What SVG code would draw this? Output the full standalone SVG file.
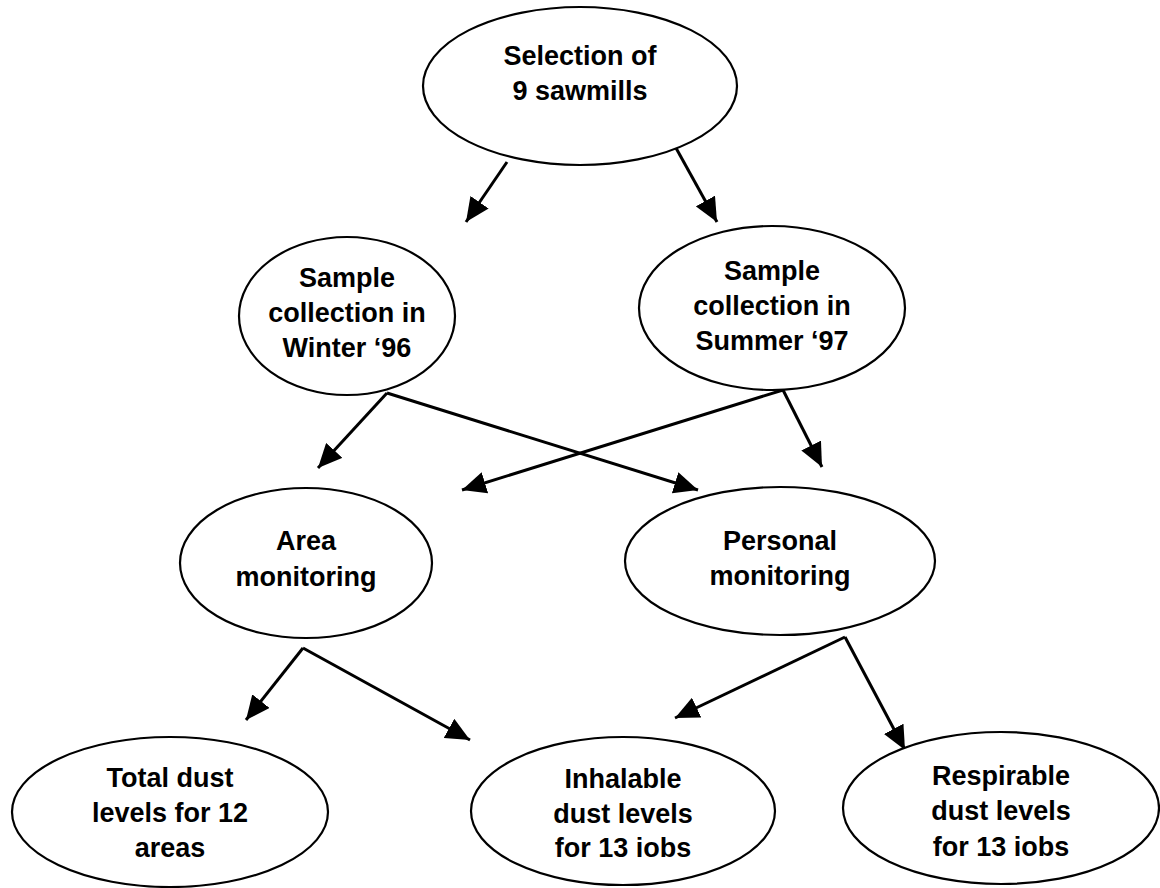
<svg xmlns="http://www.w3.org/2000/svg" width="1160" height="888" viewBox="0 0 1160 888">
<style>
.n{fill:#fff;stroke:#000;stroke-width:2.2}
.t{font-family:"Liberation Sans",Arial,sans-serif;font-weight:bold;font-size:27px;text-anchor:middle;fill:#000}
.c{stroke:#000;stroke-width:3;fill:none;marker-end:url(#ah)}
</style>
<defs>
<marker id="ah" markerUnits="userSpaceOnUse" markerWidth="26" markerHeight="22" refX="24" refY="11" orient="auto">
<path d="M0,0 L24,11 L0,22 Z" fill="#000"/>
</marker>
</defs>
<rect width="1160" height="888" fill="#fff"/>
<g id="connectors">
<line class="c" x1="507" y1="162" x2="466" y2="222"/>
<line class="c" x1="676" y1="148" x2="717" y2="222"/>
<line class="c" x1="387" y1="393" x2="318" y2="468"/>
<line class="c" x1="387" y1="393" x2="698" y2="490"/>
<line class="c" x1="783" y1="390" x2="462" y2="490"/>
<line class="c" x1="783" y1="390" x2="822" y2="467"/>
<line class="c" x1="303" y1="648" x2="246" y2="720"/>
<line class="c" x1="303" y1="648" x2="470" y2="740"/>
<line class="c" x1="845" y1="637" x2="675" y2="718"/>
<line class="c" x1="845" y1="637" x2="905" y2="750"/>
</g>
<g id="selection">
<ellipse class="n" cx="580" cy="86" rx="157" ry="79"/>
<text class="t" x="580" y="65">Selection of</text>
<text class="t" x="580" y="100">9 sawmills</text>
</g>
<g id="winter">
<ellipse class="n" cx="347" cy="316" rx="108" ry="79"/>
<text class="t" x="347" y="287">Sample</text>
<text class="t" x="347" y="322">collection in</text>
<text class="t" x="347" y="357">Winter ‘96</text>
</g>
<g id="summer">
<ellipse class="n" cx="772" cy="308" rx="133" ry="82"/>
<text class="t" x="772" y="280">Sample</text>
<text class="t" x="772" y="315">collection in</text>
<text class="t" x="772" y="350">Summer ‘97</text>
</g>
<g id="area">
<ellipse class="n" cx="306" cy="563" rx="126" ry="75"/>
<text class="t" x="306" y="550">Area</text>
<text class="t" x="306" y="586">monitoring</text>
</g>
<g id="personal">
<ellipse class="n" cx="780" cy="561" rx="155" ry="74"/>
<text class="t" x="780" y="550">Personal</text>
<text class="t" x="780" y="585">monitoring</text>
</g>
<g id="total">
<ellipse class="n" cx="170" cy="812" rx="158" ry="75"/>
<text class="t" x="170" y="787">Total dust</text>
<text class="t" x="170" y="822">levels for 12</text>
<text class="t" x="170" y="857">areas</text>
</g>
<g id="inhalable">
<ellipse class="n" cx="623" cy="811" rx="152" ry="74"/>
<text class="t" x="623" y="788">Inhalable</text>
<text class="t" x="623" y="823">dust levels</text>
<text class="t" x="623" y="857">for 13 iobs</text>
</g>
<g id="respirable">
<ellipse class="n" cx="1001" cy="808" rx="158" ry="76"/>
<text class="t" x="1001" y="785">Respirable</text>
<text class="t" x="1001" y="820">dust levels</text>
<text class="t" x="1001" y="856">for 13 iobs</text>
</g>
</svg>
